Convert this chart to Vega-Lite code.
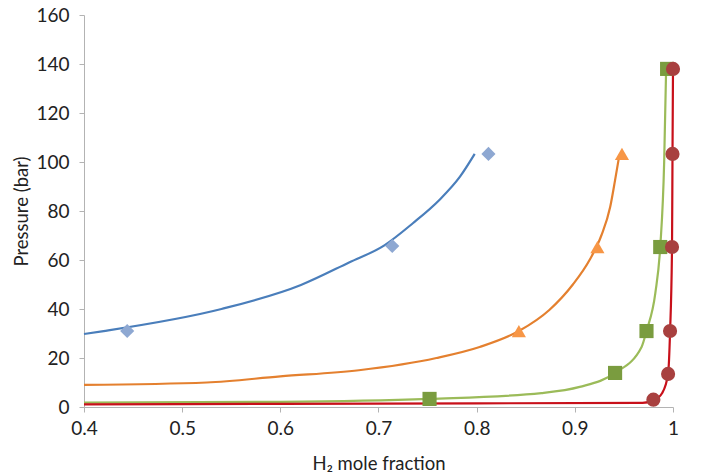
{
  "$schema": "https://vega.github.io/schema/vega-lite/v6.json",
  "width": 589,
  "height": 392,
  "autosize": {"type": "none"},
  "padding": {"left": 84, "top": 15, "right": 34, "bottom": 65},
  "background": "white",
  "config": {
    "view": {"stroke": null},
    "font": "Lato",
    "axis": {
      "grid": false,
      "domainColor": "#b3b3b3",
      "tickColor": "#b3b3b3",
      "tickSize": 5,
      "labelFont": "Lato",
      "labelFontSize": 19,
      "labelColor": "#222222",
      "titleFont": "Lato",
      "titleFontSize": 18.5,
      "titleFontWeight": "normal",
      "titleColor": "#222222"
    }
  },
  "data": {
    "values": [
      {"s": "L1", "k": "line", "o": 1, "x": 0.4, "y": 29.8},
      {"s": "L1", "k": "line", "o": 2, "x": 0.42, "y": 31},
      {"s": "L1", "k": "line", "o": 3, "x": 0.54, "y": 40},
      {"s": "L1", "k": "line", "o": 4, "x": 0.621, "y": 49.8},
      {"s": "L1", "k": "line", "o": 5, "x": 0.67, "y": 59},
      {"s": "L1", "k": "line", "o": 6, "x": 0.706, "y": 66},
      {"s": "L1", "k": "line", "o": 7, "x": 0.735, "y": 75},
      {"s": "L1", "k": "line", "o": 8, "x": 0.762, "y": 84.5},
      {"s": "L1", "k": "line", "o": 9, "x": 0.783, "y": 94},
      {"s": "L1", "k": "line", "o": 10, "x": 0.798, "y": 103.3},
      {"s": "L2", "k": "line", "o": 1, "x": 0.4, "y": 9},
      {"s": "L2", "k": "line", "o": 2, "x": 0.525, "y": 10},
      {"s": "L2", "k": "line", "o": 3, "x": 0.6, "y": 12.5},
      {"s": "L2", "k": "line", "o": 4, "x": 0.68, "y": 15},
      {"s": "L2", "k": "line", "o": 5, "x": 0.759, "y": 20},
      {"s": "L2", "k": "line", "o": 6, "x": 0.803, "y": 24.5},
      {"s": "L2", "k": "line", "o": 7, "x": 0.843, "y": 31},
      {"s": "L2", "k": "line", "o": 8, "x": 0.874, "y": 39.6},
      {"s": "L2", "k": "line", "o": 9, "x": 0.898, "y": 50},
      {"s": "L2", "k": "line", "o": 10, "x": 0.915, "y": 60},
      {"s": "L2", "k": "line", "o": 11, "x": 0.927, "y": 70},
      {"s": "L2", "k": "line", "o": 12, "x": 0.936, "y": 81.6},
      {"s": "L2", "k": "line", "o": 13, "x": 0.941, "y": 92.6},
      {"s": "L2", "k": "line", "o": 14, "x": 0.945, "y": 102},
      {"s": "L3", "k": "line", "o": 1, "x": 0.4, "y": 1.8},
      {"s": "L3", "k": "line", "o": 2, "x": 0.6, "y": 2.1},
      {"s": "L3", "k": "line", "o": 3, "x": 0.752, "y": 3.3},
      {"s": "L3", "k": "line", "o": 4, "x": 0.866, "y": 5.7},
      {"s": "L3", "k": "line", "o": 5, "x": 0.905, "y": 8.2},
      {"s": "L3", "k": "line", "o": 6, "x": 0.941, "y": 13.9},
      {"s": "L3", "k": "line", "o": 7, "x": 0.968, "y": 24.5},
      {"s": "L3", "k": "line", "o": 8, "x": 0.973, "y": 31},
      {"s": "L3", "k": "line", "o": 9, "x": 0.982, "y": 46.5},
      {"s": "L3", "k": "line", "o": 10, "x": 0.987, "y": 65.3},
      {"s": "L3", "k": "line", "o": 11, "x": 0.991, "y": 100},
      {"s": "L3", "k": "line", "o": 12, "x": 0.993, "y": 138},
      {"s": "L4", "k": "line", "o": 1, "x": 0.4, "y": 1.1},
      {"s": "L4", "k": "line", "o": 2, "x": 0.6, "y": 1.3},
      {"s": "L4", "k": "line", "o": 3, "x": 0.8, "y": 1.5},
      {"s": "L4", "k": "line", "o": 4, "x": 0.969, "y": 1.7},
      {"s": "L4", "k": "line", "o": 5, "x": 0.98, "y": 2.6},
      {"s": "L4", "k": "line", "o": 6, "x": 0.989, "y": 5.7},
      {"s": "L4", "k": "line", "o": 7, "x": 0.995, "y": 13.5},
      {"s": "L4", "k": "line", "o": 8, "x": 0.997, "y": 30.6},
      {"s": "L4", "k": "line", "o": 9, "x": 0.999, "y": 65.3},
      {"s": "L4", "k": "line", "o": 10, "x": 0.9995, "y": 103.3},
      {"s": "L4", "k": "line", "o": 11, "x": 1.0, "y": 138},
      {"s": "P1", "k": "point", "o": 1, "x": 0.444, "y": 31},
      {"s": "P1", "k": "point", "o": 2, "x": 0.714, "y": 65.7},
      {"s": "P1", "k": "point", "o": 3, "x": 0.812, "y": 103.3},
      {"s": "P2", "k": "point", "o": 1, "x": 0.843, "y": 31},
      {"s": "P2", "k": "point", "o": 2, "x": 0.923, "y": 65.3},
      {"s": "P2", "k": "point", "o": 3, "x": 0.948, "y": 103.3},
      {"s": "P3", "k": "point", "o": 1, "x": 0.752, "y": 3.3},
      {"s": "P3", "k": "point", "o": 2, "x": 0.941, "y": 13.9},
      {"s": "P3", "k": "point", "o": 3, "x": 0.973, "y": 31},
      {"s": "P3", "k": "point", "o": 4, "x": 0.987, "y": 65.3},
      {"s": "P3", "k": "point", "o": 5, "x": 0.994, "y": 138},
      {"s": "P4", "k": "point", "o": 1, "x": 0.98, "y": 3},
      {"s": "P4", "k": "point", "o": 2, "x": 0.995, "y": 13.5},
      {"s": "P4", "k": "point", "o": 3, "x": 0.997, "y": 31},
      {"s": "P4", "k": "point", "o": 4, "x": 0.999, "y": 65.3},
      {"s": "P4", "k": "point", "o": 5, "x": 0.9995, "y": 103.3},
      {"s": "P4", "k": "point", "o": 6, "x": 1.0, "y": 138}
    ]
  },
  "encoding": {
    "x": {
      "field": "x", "type": "quantitative",
      "scale": {"domain": [0.4, 1], "nice": false, "zero": false},
      "axis": {"values": [0.4, 0.5, 0.6, 0.7, 0.8, 0.9, 1], "labelExpr": "datum.value == 1 ? '1' : format(datum.value, '.1f')", "title": "H₂ mole fraction", "labelPadding": 7, "titlePadding": 16, "labelFlush": false}
    },
    "y": {
      "field": "y", "type": "quantitative",
      "scale": {"domain": [0, 160], "nice": false},
      "axis": {"values": [0, 20, 40, 60, 80, 100, 120, 140, 160], "title": "Pressure (bar)", "labelPadding": 10, "titlePadding": 4, "labelFlush": false}
    },
    "color": {
      "field": "s", "type": "nominal", "legend": null,
      "scale": {
        "domain": ["L1", "L2", "L3", "L4", "P1", "P2", "P3", "P4"],
        "range": ["#4a7ebb", "#e4802f", "#9bbb59", "#c8101a", "#8ea8d2", "#f79646", "#7a9c3f", "#a8403f"]
      }
    }
  },
  "layer": [
    {
      "transform": [{"filter": "datum.k == 'line'"}],
      "mark": {"type": "line", "strokeWidth": 2.2, "interpolate": "monotone"},
      "encoding": {"order": {"field": "o", "type": "quantitative"}}
    },
    {
      "transform": [{"filter": "datum.k == 'point'"}],
      "mark": {"type": "point", "filled": true, "opacity": 1, "size": 200},
      "encoding": {
        "shape": {
          "field": "s", "type": "nominal", "legend": null,
          "scale": {"domain": ["P1", "P2", "P3", "P4"], "range": ["diamond", "triangle-up", "square", "circle"]}
        }
      }
    }
  ]
}
